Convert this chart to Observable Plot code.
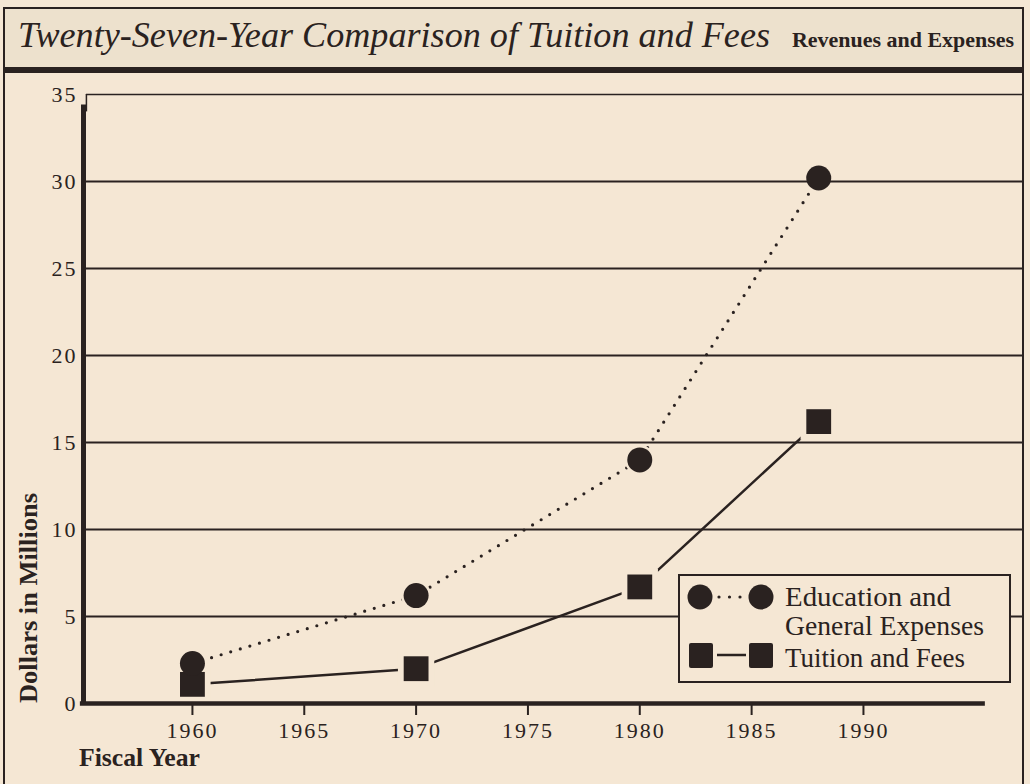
<!DOCTYPE html>
<html>
<head>
<meta charset="utf-8">
<script src="https://cdn.jsdelivr.net/npm/d3@7"></script>
<script src="https://cdn.jsdelivr.net/npm/@observablehq/plot@0.6"></script>
<style>
  html, body { margin: 0; padding: 0; background: #f5e7d4; }
  #page { position: relative; width: 1030px; height: 784px; background: #f5e7d4; overflow: hidden; }
  #chart { position: absolute; left: 0; top: 74px; }
  #overlay { position: absolute; left: 0; top: 0; pointer-events: none; }
  text { font-family: "Liberation Serif", "DejaVu Serif", serif; }
</style>
</head>
<body>
<div id="page">
  <div id="chart"></div>
  <svg id="overlay" width="1030" height="784"></svg>
</div>
<script>
// ---- data ----
const years = [1960, 1970, 1980, 1988];
const educationExpenses = [2.3, 6.2, 14.0, 30.2];
const tuitionFees = [1.1, 2.0, 6.7, 16.2];
const yTicks = [0, 5, 10, 15, 20, 25, 30, 35];
const xTicks = [1960, 1965, 1970, 1975, 1980, 1985, 1990];
const seriesNames = ["Education and General Expenses", "Tuition and Fees"];
const titleMain = "Twenty-Seven-Year Comparison of Tuition and Fees";
const titleSub = "Revenues and Expenses";
const yLabel = "Dollars in Millions";
const xLabel = "Fiscal Year";

// ---- style ----
const ink = "#2a2220";
const bg = "#f5e7d4";
const bandBg = "#ede1cd";
const xDomain = [1955.13, 1997.2];
const xAxisEnd = 1995.45;

const edu = years.map((year, i) => ({year, value: educationExpenses[i], series: seriesNames[0]}));
const tui = years.map((year, i) => ({year, value: tuitionFees[i], series: seriesNames[1]}));

const chart = Plot.plot({
  width: 1030,
  height: 710,
  marginTop: 20,
  marginBottom: 81,
  marginLeft: 83,
  marginRight: 6,
  style: {background: "transparent", fontFamily: "Liberation Serif, serif", color: ink, letterSpacing: "2px"},
  x: {domain: xDomain},
  y: {domain: [0, 35]},
  marks: [
    Plot.line(edu, {x: "year", y: "value", stroke: ink, strokeWidth: 3.2,
      strokeDasharray: "0 10", strokeLinecap: "round"}),
    Plot.line(tui, {x: "year", y: "value", stroke: ink, strokeWidth: 2.5}),
    // halos that open gaps in the lines around markers
    Plot.dot(tui, {x: "year", y: "value", symbol: "square", r: 20.5, fill: bg}),
    Plot.dot(edu, {x: "year", y: "value", r: 15, fill: bg}),
    // gridlines
    Plot.ruleY(yTicks.filter(d => d > 0 && d < 35), {stroke: ink, strokeWidth: 2}),
    Plot.ruleY([35], {stroke: ink, strokeWidth: 1.5, x1: xDomain[0] + 0.13, x2: xDomain[1]}),
    // axis lines
    Plot.ruleX([xDomain[0]], {y1: 0, y2: 34.4, stroke: ink, strokeWidth: 5}),
    Plot.ruleX([xDomain[0] + 0.13], {y1: 34, y2: 35, stroke: ink, strokeWidth: 1.5}),
    Plot.ruleY([0], {x1: xDomain[0] - 0.14, x2: xAxisEnd, stroke: ink, strokeWidth: 4.5}),
    Plot.axisX(xTicks, {tickSize: 12, tickPadding: 7, fontSize: 22, tickFormat: d => String(d),
      label: null, stroke: ink, strokeWidth: 2, fill: ink}),
    Plot.axisY(yTicks, {tickSize: 0, tickPadding: 6, fontSize: 22, label: null, fill: ink}),
    // markers
    Plot.dot(tui, {x: "year", y: "value", symbol: "square", r: 14, fill: ink}),
    Plot.dot(edu, {x: "year", y: "value", r: 12.5, fill: ink})
  ]
});
document.getElementById("chart").appendChild(chart);

// ---- frame, title, legend, axis titles ----
const svg = d3.select("#overlay");
svg.append("rect").attr("x", 4).attr("y", 8).attr("width", 1019).attr("height", 62)
  .attr("fill", bandBg).attr("stroke", ink).attr("stroke-width", 2);
svg.append("rect").attr("x", 3).attr("y", 67).attr("width", 1021).attr("height", 6).attr("fill", ink);
svg.append("line").attr("x1", 4).attr("x2", 4).attr("y1", 73).attr("y2", 784).attr("stroke", ink).attr("stroke-width", 2);
svg.append("line").attr("x1", 1023).attr("x2", 1023).attr("y1", 73).attr("y2", 784).attr("stroke", ink).attr("stroke-width", 2);

svg.append("text").attr("x", 18).attr("y", 47).attr("font-size", 36).attr("font-style", "italic")
  .attr("fill", ink).attr("textLength", 752).attr("lengthAdjust", "spacingAndGlyphs").text(titleMain);
svg.append("text").attr("x", 792).attr("y", 47).attr("font-size", 22).attr("font-weight", "bold")
  .attr("fill", ink).attr("textLength", 222).attr("lengthAdjust", "spacingAndGlyphs").text(titleSub);

svg.append("text").attr("transform", "translate(37,598) rotate(-90)").attr("text-anchor", "middle")
  .attr("font-size", 26).attr("font-weight", "bold").attr("fill", ink)
  .attr("textLength", 210).attr("lengthAdjust", "spacingAndGlyphs").text(yLabel);
svg.append("text").attr("x", 79).attr("y", 766).attr("font-size", 25).attr("font-weight", "bold")
  .attr("fill", ink).attr("textLength", 121).attr("lengthAdjust", "spacingAndGlyphs").text(xLabel);

const lg = svg.append("g");
lg.append("rect").attr("x", 679).attr("y", 575).attr("width", 331).attr("height", 107)
  .attr("fill", bg).attr("stroke", ink).attr("stroke-width", 2);
lg.append("line").attr("x1", 719).attr("x2", 741).attr("y1", 597).attr("y2", 597)
  .attr("stroke", ink).attr("stroke-width", 3.2).attr("stroke-dasharray", "0 10.5").attr("stroke-linecap", "round");
lg.append("circle").attr("cx", 700).attr("cy", 597).attr("r", 12.5).attr("fill", ink);
lg.append("circle").attr("cx", 761).attr("cy", 597).attr("r", 12.5).attr("fill", ink);
lg.append("line").attr("x1", 717).attr("x2", 746).attr("y1", 655).attr("y2", 655).attr("stroke", ink).attr("stroke-width", 2.5);
lg.append("rect").attr("x", 689).attr("y", 643).attr("width", 24).attr("height", 25).attr("rx", 2).attr("fill", ink);
lg.append("rect").attr("x", 749).attr("y", 643).attr("width", 24).attr("height", 25).attr("rx", 2).attr("fill", ink);
const legendLines = [
  {t: "Education and", y: 606, w: 166},
  {t: "General Expenses", y: 635, w: 199},
  {t: seriesNames[1], y: 667, w: 180}
];
legendLines.forEach(l => {
  lg.append("text").attr("x", 785).attr("y", l.y).attr("font-size", 27).attr("fill", ink)
    .attr("textLength", l.w).attr("lengthAdjust", "spacingAndGlyphs").text(l.t);
});
</script>
</body>
</html>
